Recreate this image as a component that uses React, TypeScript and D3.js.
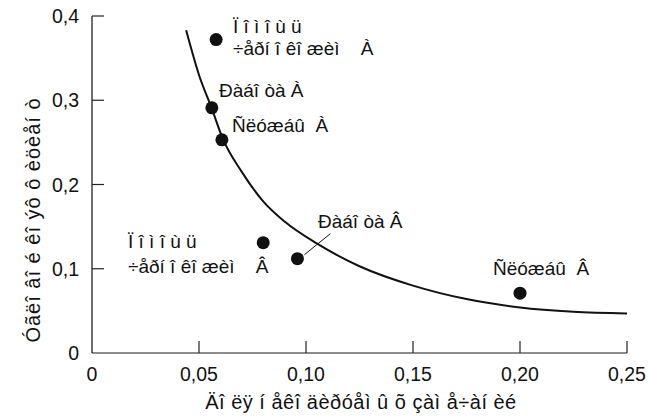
import React, { useEffect, useRef } from 'react';
import * as d3 from 'd3';

// Survey items: share of uncodable remarks vs slope coefficient
const pointX = [0.058, 0.056, 0.0607, 0.08, 0.096, 0.2];
const pointY = [0.372, 0.291, 0.253, 0.131, 0.112, 0.071];

// Fitted curve
const curveX = [0.044, 0.05, 0.056, 0.061, 0.07, 0.08, 0.09, 0.105, 0.125, 0.15, 0.175, 0.2, 0.225, 0.25];
const curveY = [0.383, 0.33, 0.29, 0.255, 0.215, 0.18, 0.156, 0.13, 0.103, 0.08, 0.064, 0.054, 0.049, 0.047];

const xTicks = [0, 0.05, 0.1, 0.15, 0.2, 0.25];
const xTickLabels = ['0', '0,05', '0,10', '0,15', '0,20', '0,25'];
const yTicks = [0, 0.1, 0.2, 0.3, 0.4];
const yTickLabels = ['0', '0,1', '0,2', '0,3', '0,4'];

const xTitle = 'Äî ëÿ í åêî äèðóåì û õ çàì å÷àí èé';
const yTitle = 'Óãëî âî é êî ýô ô èöèåí ò';

const App: React.FC = () => {
  const svgRef = useRef<SVGSVGElement>(null);

  useEffect(() => {
    if (!svgRef.current) return;
    const svg = d3.select(svgRef.current);
    svg.selectAll('*').remove();

    const font = 'Arial, "Liberation Sans", sans-serif';
    const x = d3.scaleLinear().domain([0, 0.25]).range([92, 627]);
    const y = d3.scaleLinear().domain([0, 0.4]).range([353, 16]);

    // axes lines
    svg.append('line')
      .attr('x1', x(0)).attr('x2', x(0.25))
      .attr('y1', y(0)).attr('y2', y(0))
      .attr('stroke', '#666').attr('stroke-width', 1.5);
    svg.append('line')
      .attr('x1', x(0)).attr('x2', x(0))
      .attr('y1', y(0)).attr('y2', y(0.4))
      .attr('stroke', '#222').attr('stroke-width', 1.3);

    // x ticks (inward)
    svg.selectAll('.xt')
      .data(xTicks.slice(1))
      .enter()
      .append('line')
      .attr('x1', d => x(d)).attr('x2', d => x(d))
      .attr('y1', y(0)).attr('y2', y(0) - 12)
      .attr('stroke', '#222').attr('stroke-width', 1.2);

    svg.selectAll('.xl')
      .data(xTicks)
      .enter()
      .append('text')
      .attr('x', d => x(d))
      .attr('y', 381)
      .attr('text-anchor', 'middle')
      .attr('font-family', font)
      .attr('font-size', 19.5)
      .attr('fill', '#111')
      .text((d, i) => xTickLabels[i]);

    // y ticks (inward)
    svg.selectAll('.yt')
      .data(yTicks.slice(1))
      .enter()
      .append('line')
      .attr('x1', x(0)).attr('x2', x(0) + 12)
      .attr('y1', d => y(d)).attr('y2', d => y(d))
      .attr('stroke', '#222').attr('stroke-width', 1.2);

    svg.selectAll('.yl')
      .data(yTicks)
      .enter()
      .append('text')
      .attr('x', 79)
      .attr('y', d => y(d) + 7)
      .attr('text-anchor', 'end')
      .attr('font-family', font)
      .attr('font-size', 19.5)
      .attr('fill', '#111')
      .text((d, i) => yTickLabels[i]);

    // axis titles
    svg.append('text')
      .attr('x', 361)
      .attr('y', 409)
      .attr('text-anchor', 'middle')
      .attr('font-family', font)
      .attr('font-size', 20)
      .attr('letter-spacing', 0.5)
      .attr('fill', '#111')
      .text(xTitle);

    svg.append('text')
      .attr('transform', 'translate(40,220) rotate(-90)')
      .attr('text-anchor', 'middle')
      .attr('font-family', font)
      .attr('font-size', 20)
      .attr('letter-spacing', 1)
      .attr('fill', '#111')
      .text(yTitle);

    // curve
    const line = d3.line<number>()
      .x((d, i) => x(curveX[i]))
      .y(d => y(d))
      .curve(d3.curveMonotoneX);
    svg.append('path')
      .attr('d', line(curveY))
      .attr('fill', 'none')
      .attr('stroke', '#111')
      .attr('stroke-width', 2);

    // leader line for Ðàáîòà Â
    svg.append('line')
      .attr('x1', x(pointX[4]) + 7).attr('y1', y(pointY[4]) - 4)
      .attr('x2', x(pointX[4]) + 33).attr('y2', y(pointY[4]) - 25)
      .attr('stroke', '#111').attr('stroke-width', 1);

    // points
    svg.selectAll('.pt')
      .data(pointX)
      .enter()
      .append('circle')
      .attr('cx', d => x(d))
      .attr('cy', (d, i) => y(pointY[i]))
      .attr('r', 6.5)
      .attr('fill', '#111');

    // labels
    const labels: [number, number, string][] = [
      [233, 33, 'Ï î ì î ù ü'],
      [233, 55, '÷åðí î êî æèì    À'],
      [219, 97, 'Ðàáî òà À'],
      [232, 132, 'Ñëóæáû  À'],
      [128, 248, 'Ï î ì î ù ü'],
      [128, 273, '÷åðí î êî æèì    Â'],
      [318, 228, 'Ðàáî òà Â'],
      [493, 275, 'Ñëóæáû  Â'],
    ];
    svg.selectAll('.lab')
      .data(labels)
      .enter()
      .append('text')
      .attr('x', d => d[0])
      .attr('y', d => d[1])
      .attr('font-family', font)
      .attr('font-size', 19)
      .attr('fill', '#111')
      .attr('xml:space', 'preserve')
      .style('white-space', 'pre')
      .text(d => d[2]);
  }, []);

  return (
    <svg
      ref={svgRef}
      width={648}
      height={417}
      style={{ position: 'absolute', left: 0, top: 0, background: '#fff' }}
    />
  );
};

export default App;
